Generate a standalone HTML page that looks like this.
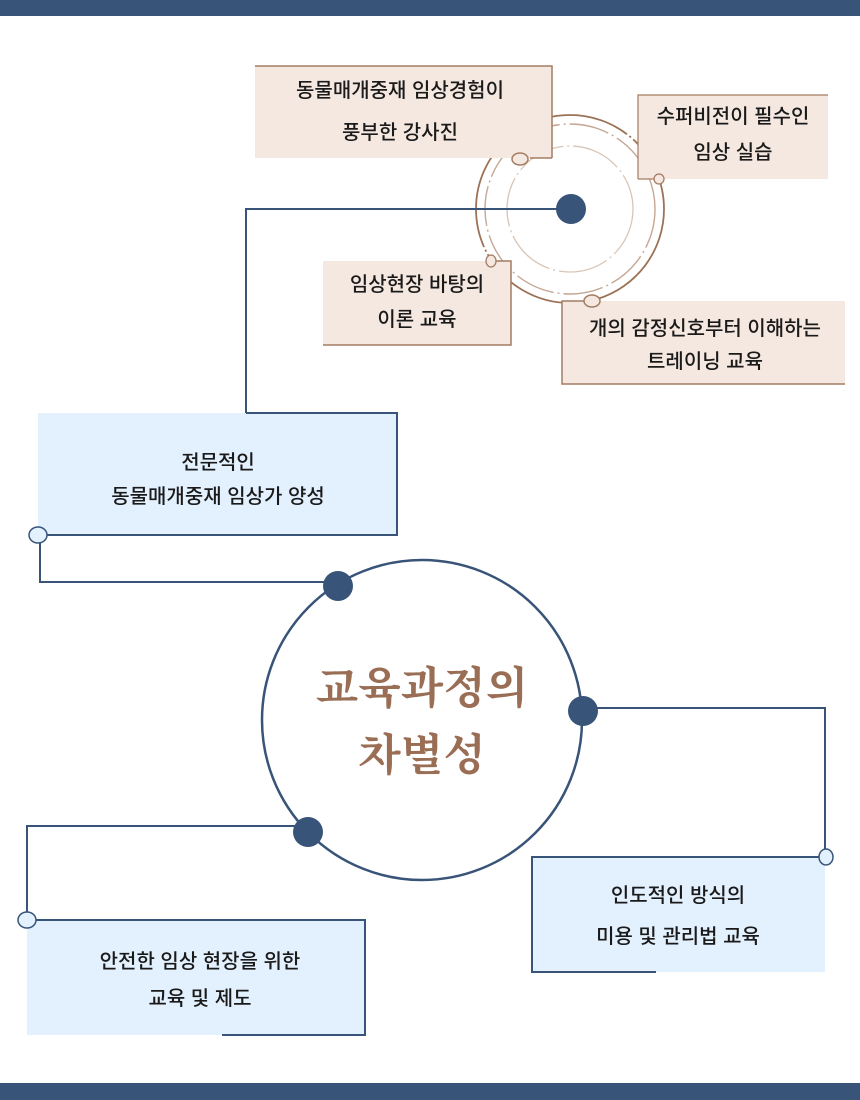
<!DOCTYPE html>
<html><head><meta charset="utf-8"><style>
html,body{margin:0;padding:0;background:#fff;}
svg{display:block;}
text{font-family:"Liberation Sans","Noto Sans CJK KR",sans-serif;fill:#1a1a1a;font-weight:500;}
</style></head><body>
<svg width="860" height="1100" viewBox="0 0 860 1100" xmlns="http://www.w3.org/2000/svg">
<rect x="0" y="0" width="860" height="16" fill="#385479"/>
<rect x="0" y="1083" width="860" height="17" fill="#385479"/>

<!-- top rings -->
<circle cx="570" cy="209" r="94" fill="none" stroke="#9c7256" stroke-width="1.8" stroke-dasharray="120 3 2 3"/>
<circle cx="570" cy="209" r="85" fill="none" stroke="#c4a794" stroke-width="1.4" stroke-dasharray="40 4 2 4"/>
<circle cx="570" cy="209" r="63" fill="none" stroke="#d8c5b7" stroke-width="1.3" stroke-dasharray="50 4 2 4"/>

<!-- beige boxes -->
<rect x="255" y="66" width="297" height="92" fill="#f5e8e0"/>
<path d="M255 66 H552 V158" fill="none" stroke="#a47c62" stroke-width="1.5"/>
<text x="400" y="97" font-size="20" text-anchor="middle">동물매개중재 임상경험이</text>
<text x="400" y="139" font-size="20" text-anchor="middle">풍부한 강사진</text>
<path d="M530 158 H552" stroke="#a47c62" stroke-width="1.5"/>
<ellipse cx="520" cy="159" rx="8" ry="6" fill="#f5e8e0" stroke="#a47c62" stroke-width="1.5"/>

<rect x="638" y="95" width="190" height="84" fill="#f5e8e0"/>
<path d="M638 179 V95 H828" fill="none" stroke="#a47c62" stroke-width="1.2"/>
<path d="M638 179 H655" stroke="#a47c62" stroke-width="1.2"/>
<text x="733" y="123" font-size="20" text-anchor="middle">수퍼비전이 필수인</text>
<text x="733" y="159" font-size="20" text-anchor="middle">임상 실습</text>
<circle cx="659" cy="179" r="5" fill="#f5e8e0" stroke="#a47c62" stroke-width="1.3"/>

<rect x="323" y="261" width="188" height="84" fill="#f5e8e0"/>
<path d="M491 261 H511 V345 H323" fill="none" stroke="#a47c62" stroke-width="1.5"/>
<text x="417" y="291" font-size="20" text-anchor="middle">임상현장 바탕의</text>
<text x="417" y="326" font-size="20" text-anchor="middle">이론 교육</text>
<ellipse cx="491" cy="261" rx="5" ry="6" fill="#f5e8e0" stroke="#a47c62" stroke-width="1.3"/>

<rect x="562" y="301" width="283" height="83" fill="#f5e8e0"/>
<path d="M600 301 H562 V384 H845" fill="none" stroke="#a47c62" stroke-width="1.5"/>
<text x="705" y="335" font-size="20" text-anchor="middle">개의 감정신호부터 이해하는</text>
<text x="705" y="368" font-size="20" text-anchor="middle">트레이닝 교육</text>
<ellipse cx="592" cy="301" rx="8" ry="6" fill="#f5e8e0" stroke="#a47c62" stroke-width="1.5"/>

<!-- connector top -->
<path d="M570 209 H246 V413" fill="none" stroke="#385479" stroke-width="2"/>
<circle cx="571" cy="209" r="15" fill="#385479"/>

<!-- blue box 1 -->
<rect x="38" y="413" width="359" height="122" fill="#e3f0fd"/>
<path d="M246 413 H397 V535 H38" fill="none" stroke="#385479" stroke-width="2"/>
<text x="218" y="469" font-size="20" text-anchor="middle">전문적인</text>
<text x="218" y="503" font-size="20" text-anchor="middle">동물매개중재 임상가 양성</text>
<path d="M40 535 V582 H338" fill="none" stroke="#385479" stroke-width="2"/>
<ellipse cx="38" cy="535" rx="9" ry="8" fill="#e3f0fd" stroke="#385479" stroke-width="1.5"/>

<!-- big circle -->
<circle cx="422" cy="720" r="160" fill="none" stroke="#385479" stroke-width="2.5"/>
<text x="422" y="703" font-size="44" font-weight="bold" text-anchor="middle" style="font-family:'Noto Serif CJK SC','Liberation Serif',serif;fill:#9a6e55;font-weight:bold">교육과정의</text>
<text x="422" y="770" font-size="44" font-weight="bold" text-anchor="middle" style="font-family:'Noto Serif CJK SC','Liberation Serif',serif;fill:#9a6e55;font-weight:bold">차별성</text>
<circle cx="338" cy="586" r="15" fill="#385479"/>

<!-- right connector -->
<path d="M583 708 H825 V857" fill="none" stroke="#385479" stroke-width="2"/>
<circle cx="583" cy="711" r="15" fill="#385479"/>
<rect x="532" y="857" width="293" height="115" fill="#e3f0fd"/>
<path d="M825 857 H532 V972 H656" fill="none" stroke="#385479" stroke-width="2"/>
<text x="678" y="902" font-size="20" text-anchor="middle">인도적인 방식의</text>
<text x="678" y="943" font-size="20" text-anchor="middle">미용 및 관리법 교육</text>
<ellipse cx="826" cy="857" rx="7" ry="8" fill="#e3f0fd" stroke="#385479" stroke-width="1.5"/>

<!-- left-bottom connector -->
<path d="M308 826 H27 V920" fill="none" stroke="#385479" stroke-width="2"/>
<circle cx="308" cy="832" r="15" fill="#385479"/>
<rect x="27" y="920" width="338" height="115" fill="#e3f0fd"/>
<path d="M27 920 H365 V1035 H222" fill="none" stroke="#385479" stroke-width="2"/>
<text x="200" y="968" font-size="20" text-anchor="middle">안전한 임상 현장을 위한</text>
<text x="200" y="1005" font-size="20" text-anchor="middle">교육 및 제도</text>
<ellipse cx="27" cy="920" rx="9" ry="8" fill="#e3f0fd" stroke="#385479" stroke-width="1.5"/>
</svg>
</body></html>
